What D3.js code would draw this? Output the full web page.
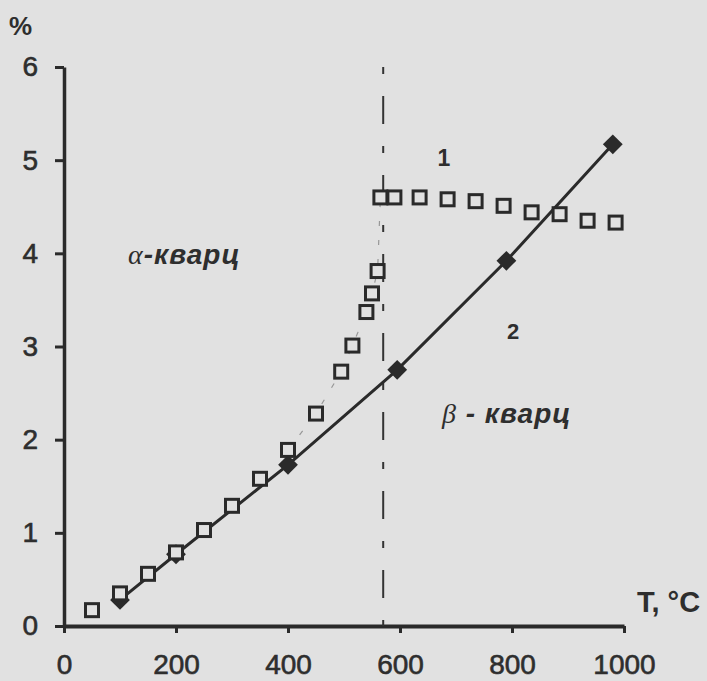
<!DOCTYPE html>
<html>
<head>
<meta charset="utf-8">
<script src="https://cdn.jsdelivr.net/npm/d3@7"></script>
<style>
  body { margin: 0; background: #e1e1e1; }
  svg { display: block; }
  text { font-family: Arial, "Liberation Sans", sans-serif; fill: #2e2e2e; }
</style>
</head>
<body>
<svg id="chart" width="707" height="681"></svg>
<script>
// curve 1 (squares)
const temp1 = [50, 100, 150, 200, 250, 300, 350, 400, 450, 495, 515, 540, 550, 560,
               565, 590, 635, 685, 735, 785, 835, 885, 935, 985]
const expansion1 = [0.17, 0.35, 0.56, 0.79, 1.03, 1.29, 1.58, 1.89, 2.28, 2.73, 3.01, 3.37, 3.57, 3.81,
                    4.6, 4.6, 4.6, 4.58, 4.56, 4.51, 4.44, 4.42, 4.35, 4.33]
// curve 2 (diamonds)
const temp2 = [100, 200, 400, 595, 790, 980]
const expansion2 = [0.28, 0.77, 1.73, 2.75, 3.92, 5.17]

const xTicks = [0, 200, 400, 600, 800, 1000]
const yTicks = [0, 1, 2, 3, 4, 5, 6]
const transitionT = 570

const ink = '#2a2a2a'
const bg = '#e1e1e1'

const svg = d3.select('#chart')

const x = d3.scaleLinear().domain([0, 1000]).range([64, 624])
const y = d3.scaleLinear().domain([0, 6]).range([626, 67])

const set1 = temp1.map((t, i) => ({t: t, v: expansion1[i]}))
const set2 = temp2.map((t, i) => ({t: t, v: expansion2[i]}))

// axes
const xAxis = svg.append('g')
    .attr('transform', 'translate(0,' + y(0) + ')')
    .call(d3.axisBottom(x).tickValues(xTicks).tickFormat(d3.format('d'))
        .tickSize(7).tickPadding(21).tickSizeOuter(0))
const yAxis = svg.append('g')
    .attr('transform', 'translate(' + x(0) + ',0)')
    .call(d3.axisLeft(y).tickValues(yTicks).tickFormat(d3.format('d'))
        .tickSize(9).tickPadding(17).tickSizeOuter(0))

svg.selectAll('.domain').attr('stroke', ink).attr('stroke-width', 3.5)
svg.selectAll('.tick line').attr('stroke', ink).attr('stroke-width', 3)
svg.selectAll('.tick text').attr('font-size', 28).attr('fill', '#2e2e2e')
    .attr('stroke', '#2e2e2e').attr('stroke-width', 0.6)
    .style('font-family', 'Arial, "Liberation Sans", sans-serif')
xAxis.select('.domain').attr('stroke-width', 4)

// dash-dot transition line
svg.append('line')
    .attr('x1', x(transitionT)).attr('x2', x(transitionT))
    .attr('y1', y(6)).attr('y2', y(0))
    .attr('stroke', '#333').attr('stroke-width', 2)
    .attr('stroke-dasharray', '7,22,28,22')

// faint dashes joining the rising part of curve 1
svg.append('path')
    .datum(set1.filter(d => d.t >= 400 && d.t <= 565))
    .attr('fill', 'none')
    .attr('stroke', '#666').attr('stroke-width', 1.2)
    .attr('stroke-opacity', 0.6)
    .attr('stroke-dasharray', '5,14')
    .attr('d', d3.line().x(d => x(d.t)).y(d => y(d.v)))

// curve 2
svg.append('path')
    .datum(set2)
    .attr('fill', 'none')
    .attr('stroke', ink).attr('stroke-width', 3)
    .attr('d', d3.line().x(d => x(d.t)).y(d => y(d.v)))

svg.append('g')
    .selectAll('path')
    .data(set2)
    .join('path')
      .attr('transform', d => 'translate(' + x(d.t) + ',' + y(d.v) + ') rotate(45)')
      .attr('d', 'M-7,-7H7V7H-7Z')
      .attr('fill', ink)

// curve 1 markers
svg.append('g')
    .selectAll('rect')
    .data(set1)
    .join('rect')
      .attr('x', d => x(d.t) - 6.5)
      .attr('y', d => y(d.v) - 6.5)
      .attr('width', 13)
      .attr('height', 13)
      .attr('fill', bg)
      .attr('stroke', ink)
      .attr('stroke-width', 3)

// labels
svg.append('text').attr('x', 9).attr('y', 35)
    .attr('font-size', 26).attr('font-weight', 'bold').text('%')
svg.append('text').attr('x', 637).attr('y', 612)
    .attr('font-size', 29).attr('font-weight', 'bold').text('T, °C')

svg.append('text').attr('x', 444).attr('y', 166).attr('text-anchor', 'middle')
    .attr('font-size', 23).attr('font-weight', 'bold').text('1')
svg.append('text').attr('x', 513).attr('y', 339).attr('text-anchor', 'middle')
    .attr('font-size', 22).attr('font-weight', 'bold').text('2')

const alpha = svg.append('text').attr('x', 128).attr('y', 264)
    .attr('font-size', 28).attr('font-weight', 'bold').attr('font-style', 'italic')
    .attr('letter-spacing', 1)
alpha.append('tspan').attr('font-family', '"Liberation Serif", serif').attr('font-weight', 'normal').text('α')
alpha.append('tspan').text('-кварц')

const beta = svg.append('text').attr('x', 442).attr('y', 423)
    .attr('font-size', 28).attr('font-weight', 'bold').attr('font-style', 'italic')
    .attr('letter-spacing', 1)
beta.append('tspan').attr('font-family', '"Liberation Serif", serif').attr('font-weight', 'normal').text('β')
beta.append('tspan').text(' - кварц')
</script>
</body>
</html>
